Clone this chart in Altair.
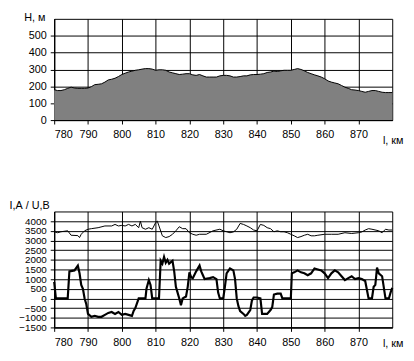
import altair as alt
import pandas as pd

# Elevation profile
km_h = list(range(780, 881))
h = [180, 175, 175, 180, 188, 195, 190, 188, 188, 188,
     190, 198, 210, 212, 215, 225, 238, 242, 248, 258,
     270, 278, 285, 290, 295, 298, 302, 305, 305, 302,
     295, 298, 298, 295, 285, 280, 275, 270, 272, 275,
     275, 268, 265, 270, 262, 255, 255, 255, 255, 262,
     265, 265, 262, 255, 255, 258, 262, 262, 268, 270,
     270, 272, 275, 282, 285, 290, 288, 292, 295, 295,
     295, 300, 305, 300, 292, 282, 275, 268, 262, 255,
     245, 232, 225, 220, 215, 205, 195, 188, 180, 178,
     175, 170, 165, 170, 175, 175, 170, 165, 163, 163, 163]

# Voltage U
km_u = [780, 781, 782, 784, 785, 787, 787.5, 788, 789, 790, 791, 793, 795, 797, 798, 799,
        800, 801, 802, 803, 804, 805, 805.5, 806, 807, 808, 809, 810, 810.5, 811, 812, 813,
        814, 815, 816, 817, 818, 819, 820, 821, 822, 823, 825, 827, 829, 830, 831, 832, 833,
        834, 835, 836, 837, 838, 839, 840, 841, 842, 843, 844, 845, 846, 847, 848, 849, 850,
        851, 852, 853, 854, 855, 856, 857, 858, 860, 862, 864, 866, 868, 870, 871, 872, 873,
        874, 876, 877, 878, 879, 880]
u = [3450, 3400, 3450, 3500, 3270, 3250, 3150, 3320, 3500, 3580, 3610, 3660, 3750, 3750, 3830, 3750,
     3780, 3750, 3830, 3750, 3830, 3660, 4000, 3660, 3580, 3660, 3580, 3920, 4000, 3750, 3240, 3150,
     3200, 3320, 3500, 3710, 3610, 3610, 3400, 3320, 3270, 3320, 3320, 3500, 3580, 3500, 3450, 3400, 3440,
     3580, 3880, 3830, 3750, 3660, 3540, 3500, 3830, 3780, 3660, 3610, 3450, 3500, 3450, 3450, 3400, 3320,
     3240, 3150, 3200, 3270, 3320, 3240, 3240, 3270, 3320, 3320, 3320, 3400, 3360, 3400, 3440, 3540, 3610,
     3580, 3500, 3400, 3580, 3540, 3540]

# Current I
km_i = [780, 780.5, 784, 784.5, 786, 787, 787.5, 788, 788.5, 789, 789.5, 790, 791, 792, 793, 794,
        795, 796, 797, 798, 799, 800, 801, 802, 803, 803.5, 804, 805, 806, 807, 807.3, 808,
        808.5, 809, 810, 811, 811.5, 812, 812.5, 813, 813.5, 814, 815, 815.5, 816, 816.5, 817,
        817.5, 818, 819, 819.5, 820, 820.5, 821, 822, 823, 823.5, 824, 824.5, 826, 827, 828,
        828.5, 829, 830, 830.5, 831, 832, 833, 833.5, 834, 834.5, 835, 836, 836.5, 837, 838,
        838.5, 839, 840, 841, 841.5, 843, 844, 844.5, 845, 846, 847, 847.5, 849, 850, 850.3,
        851, 852, 853, 854, 855, 856, 857, 858, 859, 860, 861, 862, 863, 864, 865, 866, 867,
        868, 869, 870, 871, 872, 873, 874, 874.5, 875, 875.5, 876, 877, 878, 879, 879.5, 880]
i = [850, 0, 0, 1400, 1450, 1700, 1300, 700, 500, 0, -300, -800, -950, -900, -950, -950,
     -850, -750, -700, -800, -700, -850, -800, -850, -900, -650, -500, 0, 0, 0, 500, 950,
     700, 0, 0, 0, 1950, 1800, 2150, 1850, 2000, 1800, 1950, 1400, 600, 300, 0,
     -350, 0, 100, 600, 1350, 1100, 1050, 1400, 1700, 1400, 1200, 1000, 1050, 1100, 1000,
     300, 0, 0, 600, 1300, 1550, 1450, 1000, 0, -400, -650, -800, -900, -850, -600,
     -100, 50, 50, 0, -800, -800, -600, -450, 200, 250, 250, 0, 0, 0, 1300,
     1350, 1450, 1350, 1300, 1200, 1300, 1550, 1500, 1450, 1300, 1050, 1300, 1450, 1350, 1150, 950, 1050,
     1150, 1000, 1050, 1000, 900, 0, 0, 600, 700, 1600, 1300, 1150, 0, 0, 300, 550]

x_ticks = list(range(780, 880, 10))
h_ticks = list(range(0, 600, 100))
iu_ticks = list(range(-1500, 4500, 500))

FONT = "Liberation Sans"
base = dict(labelFont=FONT, labelFontSize=11, labelColor="black", domainColor="black",
            tickColor="black", gridColor="black", gridWidth=1, gridOpacity=1, tickSize=4,
            labelOverlap=False, format="d",
            titleFont=FONT, titleFontSize=11, titleFontWeight="normal",
            titleColor="black", titleAngle=0, titleAlign="left", titleBaseline="middle")
ax_x = dict(base, labelPadding=5)
ax_y = dict(base, labelPadding=4)
ax_yb = dict(ax_y, labelFontSize=10)

df_h = pd.DataFrame({"km": km_h, "h": h})
df_u = pd.DataFrame({"km": km_u, "v": u})
df_i = pd.DataFrame({"km": km_i, "v": i})

xscale = alt.Scale(domain=[780, 880], nice=False, zero=False)

top = alt.Chart(df_h).mark_area(
    color="#808080", opacity=1, line={"color": "black", "strokeWidth": 1}
).encode(
    x=alt.X("km:Q", scale=xscale,
            axis=alt.Axis(values=x_ticks, title="l, км", titleX=334, titleY=21, **ax_x)),
    y=alt.Y("h:Q", scale=alt.Scale(domain=[0, 600], nice=False),
            axis=alt.Axis(values=h_ticks, title="Н, м", titleX=-31, titleY=-1, **ax_y)),
).properties(width=344, height=103)

xb = alt.X("km:Q", scale=xscale,
           axis=alt.Axis(values=x_ticks, title="l, км", titleX=334, titleY=16, **ax_x))
yb = alt.Y("v:Q", scale=alt.Scale(domain=[-1500, 4500], nice=False),
           axis=alt.Axis(values=iu_ticks, title="I,А / U,В", titleX=-46, titleY=-6, **ax_yb))

line_u = alt.Chart(df_u).mark_line(color="black", strokeWidth=1).encode(x=xb, y=yb)
line_i = alt.Chart(df_i).mark_line(color="black", strokeWidth=2.2).encode(x=xb, y=yb)
bottom = alt.layer(line_u, line_i).properties(width=344, height=118)

chart = alt.vconcat(top, bottom, spacing=93, bounds="flush").configure_view(
    stroke="black", strokeWidth=1
).properties(
    padding={"left": 0, "top": 0, "right": 2, "bottom": 2}, background="white"
)

chart.save("out.html", embed_options={"renderer": "svg", "actions": False})
